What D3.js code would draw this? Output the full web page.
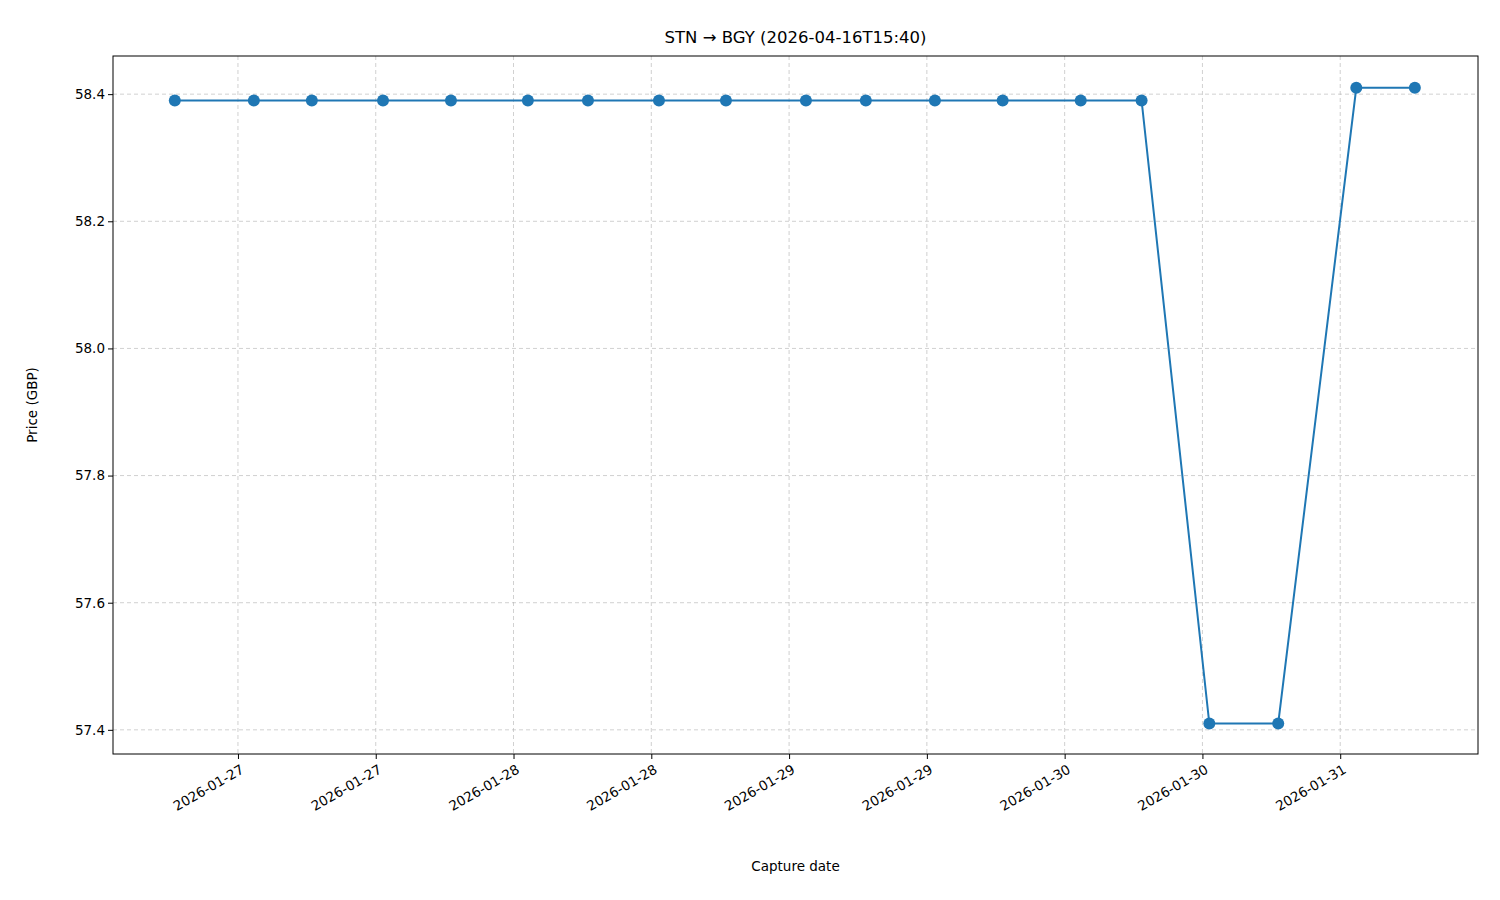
<!DOCTYPE html>
<html><head><meta charset="utf-8">
<script src="https://cdn.jsdelivr.net/npm/d3@7"></script>
<style>body{margin:0;background:#fff;font-family:"DejaVu Sans",sans-serif}</style>
</head><body>
<svg id="chart" width="1500" height="900"></svg>
<script>
// capture times and prices
var captureTimes = ["2026-01-26T18:30","2026-01-27T01:23","2026-01-27T06:26","2026-01-27T12:38",
  "2026-01-27T18:33","2026-01-28T01:15","2026-01-28T06:29","2026-01-28T12:40","2026-01-28T18:30",
  "2026-01-29T01:28","2026-01-29T06:41","2026-01-29T12:42","2026-01-29T18:36","2026-01-30T01:24",
  "2026-01-30T06:42","2026-01-30T12:36","2026-01-30T18:36","2026-01-31T01:24","2026-01-31T06:30"];
var prices = [58.39,58.39,58.39,58.39,58.39,58.39,58.39,58.39,58.39,58.39,58.39,58.39,58.39,58.39,58.39,57.41,57.41,58.41,58.41];
var yTicks = [57.4,57.6,57.8,58.0,58.2,58.4];

var parse = d3.timeParse("%Y-%m-%dT%H:%M");
var data = captureTimes.map(function(t,i){ return {t: parse(t), v: prices[i]}; });

var mLeft = 113, mRight = 1478, mTop = 56, mBottom = 754;
var svg = d3.select("#chart");

var x = d3.scaleTime()
    .domain([parse("2026-01-26T13:07"), parse("2026-01-31T12:00")])
    .range([mLeft, mRight]);
var y = d3.scaleLinear().domain([57.362, 58.46]).range([mBottom, mTop]);

var xTicks = d3.timeHour.every(12).range(parse("2026-01-27T00:00"), parse("2026-01-31T01:00"));

// grid
svg.append("g").selectAll("line").data(xTicks).enter().append("line")
    .attr("x1", function(d){return x(d);}).attr("x2", function(d){return x(d);})
    .attr("y1", mTop).attr("y2", mBottom)
    .attr("stroke", "#b0b0b0").attr("stroke-opacity", 0.6).attr("stroke-dasharray", "4,3");
svg.append("g").selectAll("line").data(yTicks).enter().append("line")
    .attr("x1", mLeft).attr("x2", mRight)
    .attr("y1", function(d){return y(d);}).attr("y2", function(d){return y(d);})
    .attr("stroke", "#b0b0b0").attr("stroke-opacity", 0.6).attr("stroke-dasharray", "4,3");

// axes
var xAxis = svg.append("g").attr("transform", "translate(0," + mBottom + ")")
    .call(d3.axisBottom(x).tickValues(xTicks).tickFormat(d3.timeFormat("%Y-%m-%d")).tickSizeOuter(0).tickSize(5));
xAxis.selectAll("text")
    .attr("font-size", 13.5).attr("fill", "#000").attr("font-family", "DejaVu Sans")
    .attr("text-anchor", "end").attr("x", 0).attr("y", 0)
    .attr("transform", "translate(4,14) rotate(-30)").attr("dy", "0.35em");
var yAxis = svg.append("g").attr("transform", "translate(" + mLeft + ",0)")
    .call(d3.axisLeft(y).tickValues(yTicks).tickFormat(d3.format(".1f")).tickSizeOuter(0).tickSize(5));
yAxis.selectAll("text").attr("font-size", 13.5).attr("fill", "#000").attr("font-family", "DejaVu Sans");
svg.selectAll(".domain").remove();
svg.append("rect").attr("x", mLeft).attr("y", mTop).attr("width", mRight - mLeft).attr("height", mBottom - mTop)
    .attr("fill", "none").attr("stroke", "#000").attr("stroke-width", 1);

// line + markers
svg.append("path").datum(data)
    .attr("d", d3.line().x(function(d){return x(d.t);}).y(function(d){return y(d.v);}))
    .attr("fill", "none").attr("stroke", "#1f77b4").attr("stroke-width", 2);
svg.append("g").selectAll("circle").data(data).enter().append("circle")
    .attr("cx", function(d){return x(d.t);}).attr("cy", function(d){return y(d.v);})
    .attr("r", 6).attr("fill", "#1f77b4");

// labels
svg.append("text").attr("x", (mLeft + mRight) / 2).attr("y", 43).attr("text-anchor", "middle")
    .attr("font-size", 16.5).text("STN \u2192 BGY (2026-04-16T15:40)");
svg.append("text").attr("x", (mLeft + mRight) / 2).attr("y", 871).attr("text-anchor", "middle")
    .attr("font-size", 13.5).text("Capture date");
svg.append("text").attr("transform", "translate(37," + (mTop + mBottom) / 2 + ") rotate(-90)")
    .attr("text-anchor", "middle").attr("font-size", 13.5).text("Price (GBP)");
</script>
</body></html>
